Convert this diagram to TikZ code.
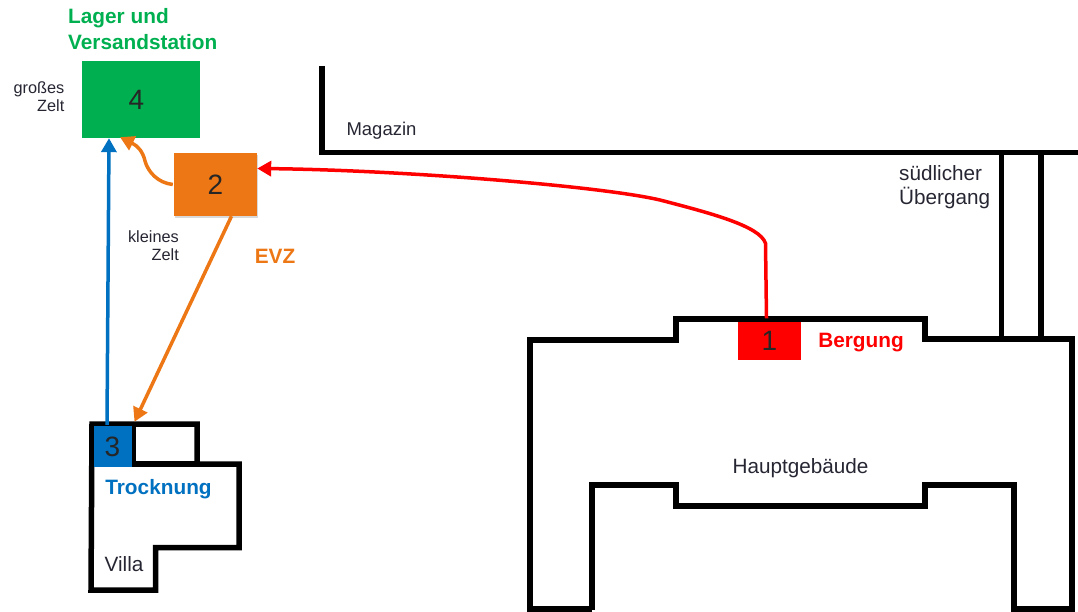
\documentclass[tikz,border=0pt]{standalone}
\usepackage{fontspec}
\setmainfont{Liberation Sans}
\usetikzlibrary{arrows.meta,shadows}
\definecolor{cgreen}{HTML}{00B050}
\definecolor{corange}{HTML}{ED7715}
\definecolor{cblue}{HTML}{0070C0}
\definecolor{cred}{HTML}{FF0000}
\definecolor{ctext}{HTML}{262633}
\tikzset{
  wall/.style={line width=5.5pt,black,line join=miter},
  numbox/.style={inner sep=0pt,font=\fontsize{28}{28}\selectfont,text=black!85},
  lbl/.style={inner sep=0pt,font=\fontsize{20.7}{24.5}\selectfont,text=ctext,align=left},
  small/.style={inner sep=0pt,font=\fontsize{16.3}{18}\selectfont,text=ctext,align=right},
  head/.style={inner sep=0pt,font=\fontsize{20.8}{26}\selectfont\bfseries,align=left},
  conn/.style={line width=3.5pt,-{Triangle[length=14pt,width=15pt]}},
}
\begin{document}
\begin{tikzpicture}[x=1pt,y=-1pt]
\useasboundingbox (0,0) rectangle (1078,612);
% walls
\draw[wall] (322,66) -- (322,152.5) -- (1078,152.5);
\draw[wall] (1001.5,152.5) -- (1001.5,339);
\draw[wall] (1041,152.5) -- (1041,339);
\draw[wall] (592,610) -- (592,485) -- (676,485) -- (676,506) -- (925,506) -- (925,485) -- (1014,485) -- (1014,609) -- (1072,609) -- (1072,339) -- (925,339) -- (925,319) -- (676,319) -- (676,340) -- (530,340) -- (530,609) -- (592,609);
\draw[wall] (92,424) -- (197,424) -- (197,464) -- (239,464) -- (239,547.5) -- (155.5,547.5) -- (155.5,590) -- (91,590) -- cycle;
\draw[wall] (133.5,424) -- (133.5,464) -- (197,464);
% numbered boxes
\node[numbox,fill=cgreen,minimum width=118pt,minimum height=77pt,text width=110pt,align=center] (n4) at (141,99.5) {\hspace*{-9pt}4};
\node[numbox,fill=corange,minimum width=83pt,minimum height=63pt,drop shadow={shadow xshift=1pt,shadow yshift=-2pt,opacity=.3}] (n2) at (215.5,184.5) {2};
\node[numbox,fill=cred,minimum width=63pt,minimum height=38.5pt] (n1) at (769.5,340.75) {1};
\node[numbox,fill=cblue,minimum width=38pt,minimum height=41pt] (n3) at (112.5,446.5) {3};
% labels
\node[head,text=cgreen,anchor=north west] (lager) at (68,8) {Lager und\\Versandstation};
\node[small,anchor=north east] (gross) at (64.5,81) {großes\\Zelt};
\node[small,anchor=north east] (klein) at (179,230) {kleines\\Zelt};
\node[head,text=corange] (evz) at (275,256) {EVZ};
\node[lbl,font=\fontsize{18.5}{22}\selectfont] (mag) at (381.5,131) {Magazin};
\node[lbl,anchor=north west] (sued) at (899,165) {südlicher\\Übergang};
\node[head,text=cred] (berg) at (861,342.5) {Bergung};
\node[lbl] (haupt) at (800.5,468) {Hauptgebäude};
\node[head,text=cblue] (trock) at (158.5,489) {Trocknung};
\node[lbl] (villa) at (124,564) {Villa};
% connectors
\draw[conn,cblue] ([xshift=-5.5pt,yshift=1pt]n3.north) -- ([xshift=-32pt]n4.south);
\draw[conn,corange] ([xshift=16pt]n2.south) -- ([xshift=22pt,yshift=4pt]n3.north);
\draw[conn,corange,line join=round] ([xshift=-1pt]n2.west) .. controls (158,183) and (148,172) .. (145,161) .. controls (143,152) and (138,146) .. ([xshift=-21pt,yshift=1pt]n4.south);
\draw[conn,cred] ([xshift=-3pt,yshift=3pt]n1.north) -- ++(-1,-75) .. controls (760,226) and (710,213) .. (660,200) .. controls (600,186) and (400,170) .. ([yshift=16pt]n2.east);
\end{tikzpicture}
\end{document}
